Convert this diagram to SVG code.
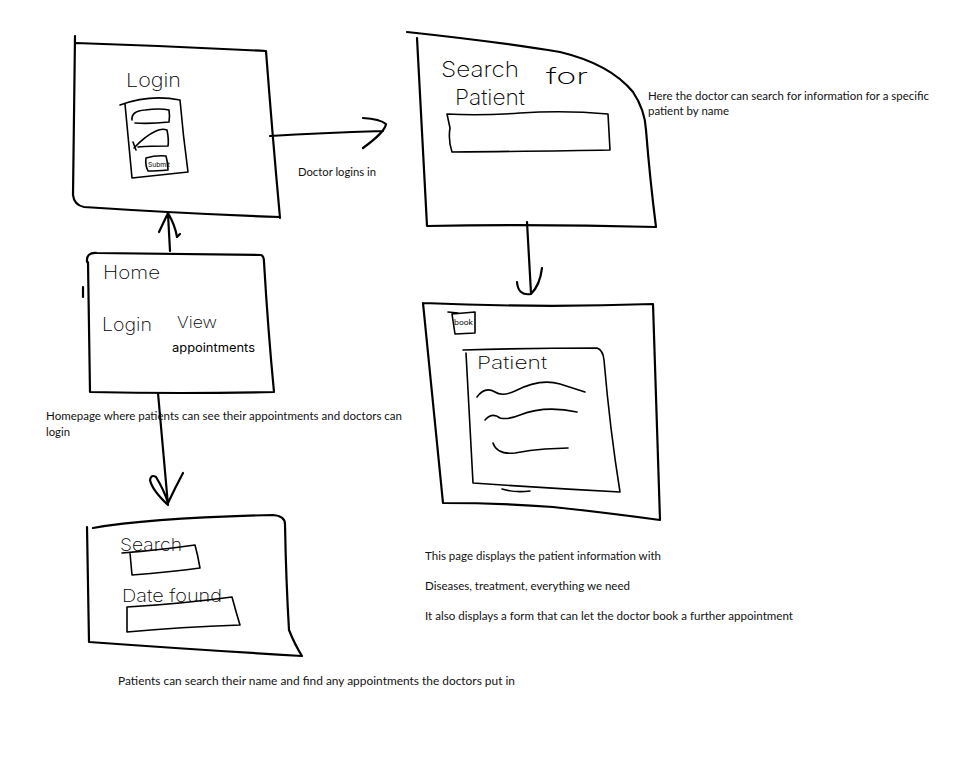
<svg xmlns="http://www.w3.org/2000/svg" width="970" height="768" viewBox="0 0 970 768">
<style>
.s{fill:none;stroke:#000;stroke-width:2.2;stroke-linecap:round;stroke-linejoin:round}
.t{fill:none;stroke:#000;stroke-width:1.6;stroke-linecap:round;stroke-linejoin:round}
.h{font-family:Inter,Roboto,"DejaVu Sans",sans-serif;font-weight:200;fill:#000}
.hs{font-family:Inter,Roboto,"DejaVu Sans",sans-serif;font-weight:400;fill:#000}
.c{font-family:Lato,"Open Sans",sans-serif;font-size:11.5px;fill:#111}
</style>
<rect width="970" height="768" fill="#fff"/>
<g id="login">
<path class="s" d="M75,36 L73,195 Q74,205 84,207 Q190,214 280,217 M76,43 Q170,46 266,51 Q272,130 280,218"/>
<text class="h" x="126" y="87" font-size="19" textLength="55" lengthAdjust="spacingAndGlyphs">Login</text>
<path class="t" d="M120,105 Q150,94 180,100 Q183,135 188,172 Q160,175 132,178 L125,104"/>
<path class="t" d="M132,120 Q131,111 145,110 Q160,108 169,110 Q170,116 169,122 Q150,124 135,123"/>
<path class="t" d="M134,148 Q145,136 156,131 Q162,128 167,130 Q169,140 168,146 Q150,146 138,147 M133,142 L136,150"/>
<path class="t" d="M146,158 Q156,155 166,156 Q168,163 168,170 Q156,171 148,171 Q145,165 146,158"/>
<text class="hs" x="148" y="167" font-size="6.5" textLength="22" lengthAdjust="spacingAndGlyphs">Submit</text>
</g>
<g id="search-patient">
<path class="s" d="M407,32 Q500,42 560,52 Q610,64 633,92 Q645,110 646,130 Q650,180 656,227 Q540,224 427,226 L417,38"/>
<text class="h" x="441" y="77" font-size="22" textLength="78" lengthAdjust="spacingAndGlyphs">Search</text>
<text class="h" x="546" y="84" font-size="22" textLength="42" lengthAdjust="spacingAndGlyphs">for</text>
<text class="h" x="455" y="105" font-size="22" textLength="70" lengthAdjust="spacingAndGlyphs">Patient</text>
<path class="t" d="M447,114 Q480,116 520,113 Q565,110 608,114 L610,150 Q560,151 452,152 Q448,140 450,128 Z"/>
</g>
<g id="patient-page">
<path class="s" d="M423,303 Q540,308 653,304 Q656,410 660,520 Q600,512 553,507 Q500,503 443,503 L423,303"/>
<path class="t" d="M452,314 L475,312 L475,333 L455,334 Z M448,312 L458,313"/>
<text class="hs" x="454" y="325" font-size="7" textLength="19" lengthAdjust="spacingAndGlyphs">book</text>
<path class="t" d="M463,350 Q530,348 597,348 Q603,350 604,360 Q610,430 620,492 Q545,488 473,483 L466,353"/>
<path class="t" d="M502,489 Q515,493 530,491"/>
<text class="h" x="477" y="369" font-size="17" textLength="70" lengthAdjust="spacingAndGlyphs">Patient</text>
<path class="t" d="M477,397 Q485,386 495,392 Q502,397 515,391 Q540,378 560,384 L585,392"/>
<path class="t" d="M485,420 Q492,412 500,418 Q508,420 520,415 Q545,405 577,412"/>
<path class="t" d="M493,443 Q497,455 515,453 Q530,450 545,449 L568,448"/>
</g>
<g id="home">
<path class="s" d="M87,262 Q86,252 97,253 Q180,254 261,255 Q264,256 264,262 Q268,330 274,392 Q180,394 90,392 L88,262 M83,287 L83,297"/>
<text class="h" x="103" y="279" font-size="18" textLength="57" lengthAdjust="spacingAndGlyphs">Home</text>
<text class="h" x="102" y="331" font-size="18" textLength="50" lengthAdjust="spacingAndGlyphs">Login</text>
<text class="h" x="177" y="328" font-size="16" textLength="40" lengthAdjust="spacingAndGlyphs">View</text>
<text class="hs" x="172" y="352" font-size="12" textLength="83" lengthAdjust="spacingAndGlyphs">appointments</text>
</g>
<g id="search-appts">
<path class="s" d="M93,528 Q150,518 273,515 Q285,516 285,524 Q286,580 289,630 Q295,645 302,656 Q200,650 89,642 L87,527"/>
<text class="h" x="120" y="551" font-size="17" textLength="62" lengthAdjust="spacingAndGlyphs">Search</text>
<path class="t" d="M122,553 Q160,550 195,545 Q198,556 200,568 Q170,572 132,575 L130,553"/>
<text class="h" x="122" y="602" font-size="17" textLength="100" lengthAdjust="spacingAndGlyphs">Date found</text>
<path class="t" d="M127,607 Q180,604 232,597 Q236,612 240,625 Q180,627 127,632 L127,607"/>
</g>
<g id="connectors">
<path class="s" d="M270,136 Q320,133 383,131 M363,118 Q380,119 386,124 Q385,132 363,148"/>
<path class="s" d="M170,251 L168,214 M159,232 L168,213 Q175,225 177,237 L180,234"/>
<path class="s" d="M527,222 L531,293 M517,282 Q518,296 531,294 Q540,285 542,268"/>
<path class="s" d="M158,393 L168,505 M168,505 Q152,490 150,480 Q151,474 156,477 Q164,490 168,503 Q175,488 183,473"/>
</g>
<g id="captions">
<text class="c" x="298" y="176" textLength="78" lengthAdjust="spacingAndGlyphs">Doctor logins in</text>
<text class="c" x="648" y="100" textLength="281" lengthAdjust="spacingAndGlyphs">Here the doctor can search for information for a specific</text>
<text class="c" x="648" y="115" textLength="81" lengthAdjust="spacingAndGlyphs">patient by name</text>
<text class="c" x="46" y="420" textLength="356" lengthAdjust="spacingAndGlyphs">Homepage where patients can see their appointments and doctors can</text>
<text class="c" x="46" y="436" textLength="24" lengthAdjust="spacingAndGlyphs">login</text>
<text class="c" x="425" y="560" textLength="236" lengthAdjust="spacingAndGlyphs">This page displays the patient information with</text>
<text class="c" x="425" y="590" textLength="205" lengthAdjust="spacingAndGlyphs">Diseases, treatment, everything we need</text>
<text class="c" x="425" y="620" textLength="368" lengthAdjust="spacingAndGlyphs">It also displays a form that can let the doctor book a further appointment</text>
<text class="c" x="118" y="685" textLength="397" lengthAdjust="spacingAndGlyphs">Patients can search their name and find any appointments the doctors put in</text>
</g>
</svg>
